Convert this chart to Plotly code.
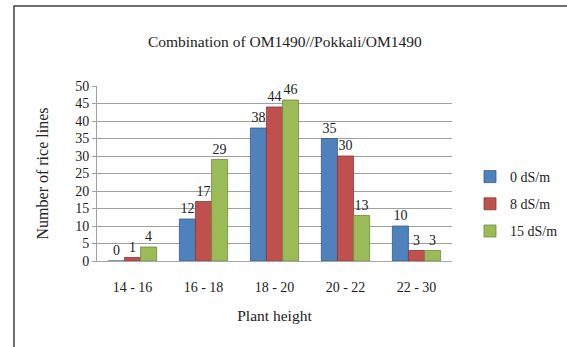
import plotly.graph_objects as go

categories = ["14 - 16", "16 - 18", "18 - 20", "20 - 22", "22 - 30"]
series_names = ["0 dS/m", "8 dS/m", "15 dS/m"]
values_0 = [0, 12, 38, 35, 10]
values_8 = [1, 17, 44, 30, 3]
values_15 = [4, 29, 46, 13, 3]
y_ticks = [0, 5, 10, 15, 20, 25, 30, 35, 40, 45, 50]

series_values = [values_0, values_8, values_15]
colors = ["#4F81BD", "#C0504D", "#9BBB59"]
edge_colors = ["#385D8A", "#8C3836", "#71893F"]

FONT = "Liberation Serif, Times New Roman, serif"

fig = go.Figure()
for i, (name, vals) in enumerate(zip(series_names, series_values)):
    fig.add_trace(go.Bar(
        x=categories, y=vals, name=name,
        marker=dict(color=colors[i], line=dict(color=edge_colors[i], width=0.8)),
        text=[str(v) for v in vals], textposition="outside",
        textfont=dict(family=FONT, size=14, color="#222222"),
        cliponaxis=False, legendgroup=name,
    ))

W, H = 567, 347
L, R, T, B = 97, 115, 86, 86
pw = W - L - R
ph = H - T - B

def px_x(p):
    return (p - L) / pw

def px_y(p):
    return (H - B - p) / ph

fig.update_layout(
    width=W, height=H,
    margin=dict(l=L, r=R, t=T, b=B, autoexpand=False),
    paper_bgcolor="white", plot_bgcolor="white",
    font=dict(family=FONT, size=14, color="#222222"),
    barmode="group", bargap=0.32, bargroupgap=0.0,
    title=dict(text="Combination of OM1490//Pokkali/OM1490",
               x=300 / W, xref="paper", xanchor="center",
               y=1 - 42 / H, yref="container", yanchor="middle",
               font=dict(family=FONT, size=15.5, color="#222222")),
    xaxis=dict(showgrid=False, showline=True, linecolor="#A6A6A6", linewidth=1,
               ticks="outside", ticklen=13, tickcolor="rgba(0,0,0,0)",
               tickfont=dict(family=FONT, size=14),
               title=dict(text="Plant height", standoff=16,
                          font=dict(family=FONT, size=15.5)),
               range=[-0.5, 4.5]),
    yaxis=dict(range=[0, 50], tickvals=y_ticks, showgrid=True,
               gridcolor="#A0A0A0", gridwidth=1, zeroline=False,
               showline=True, linecolor="#A0A0A0", linewidth=1,
               ticks="outside", ticklen=4, tickcolor="#A0A0A0",
               tickfont=dict(family=FONT, size=14),
               title=dict(text="Number of rice lines", standoff=22,
                          font=dict(family=FONT, size=16))),
    legend=dict(x=px_x(470), y=px_y(161), xanchor="left", yanchor="top",
                font=dict(family=FONT, size=14), tracegroupgap=6,
                bgcolor="rgba(0,0,0,0)"),
    shapes=[dict(type="rect", xref="paper", yref="paper",
                 x0=px_x(14), x1=px_x(580), y0=px_y(360), y1=px_y(6),
                 line=dict(color="#404040", width=1.5), layer="below")],
)

fig.write_html("out.html", config={"displayModeBar": False},
               post_script="document.body.style.margin='0';")
